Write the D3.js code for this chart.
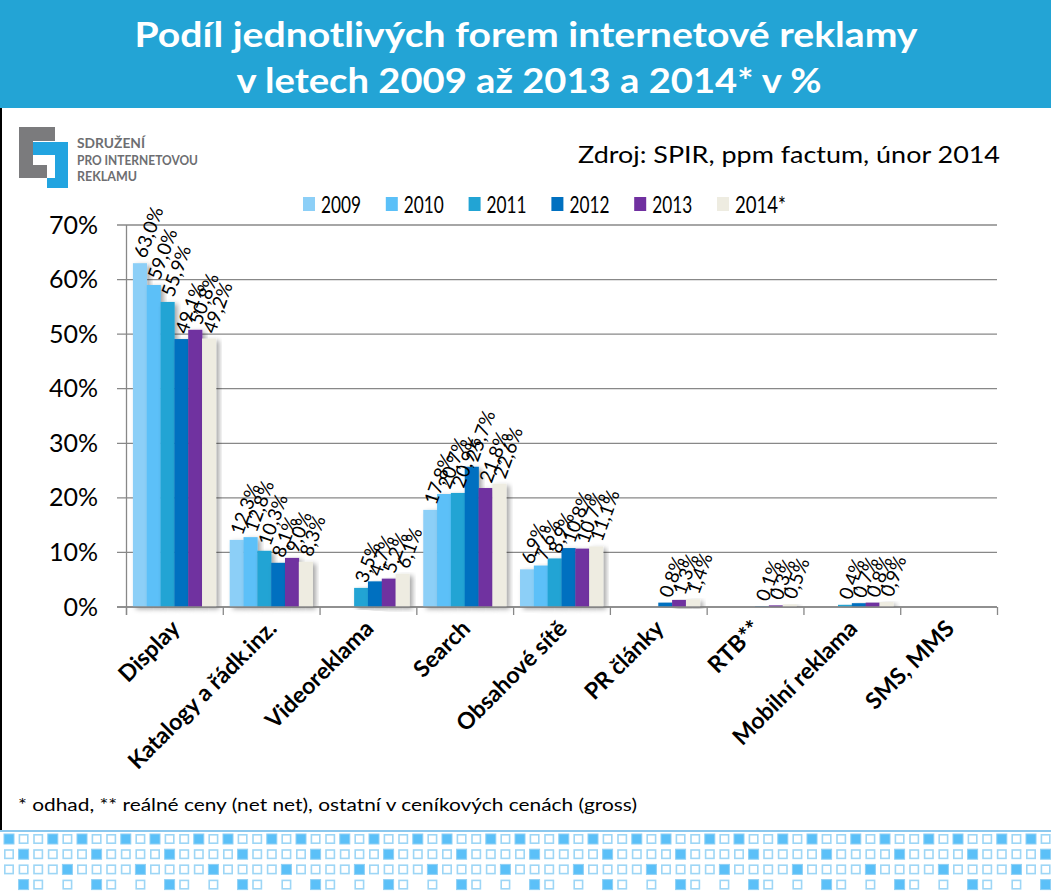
<!DOCTYPE html>
<html><head><meta charset="utf-8">
<script src="https://cdn.jsdelivr.net/npm/d3@7"></script>
<style>
body{margin:0;background:#fff;}
svg{display:block;}
text{font-family:Lato,"Open Sans",sans-serif;}
</style></head>
<body>
<svg id="c" width="1051" height="891"></svg>
<script>
const categories = ["Display","Katalogy a řádk.inz.","Videoreklama","Search","Obsahové sítě","PR články","RTB**","Mobilní reklama","SMS, MMS"];
const years = ["2009","2010","2011","2012","2013","2014*"];
const s2009 = [63.0, 12.3, null, 17.8, 6.9, null, null, null, null];
const s2010 = [59.0, 12.8, null, 20.7, 7.6, null, null, null, null];
const s2011 = [55.9, 10.3, 3.5, 20.9, 8.9, null, null, 0.4, null];
const s2012 = [49.1, 8.1, 4.7, 25.7, 10.8, 0.8, 0.1, 0.7, null];
const s2013 = [50.8, 9.0, 5.2, 21.8, 10.7, 1.3, 0.3, 0.8, null];
const s2014 = [49.2, 8.3, 6.1, 22.6, 11.1, 1.4, 0.5, 0.9, null];
const yTicks = [0,10,20,30,40,50,60,70];
const colors = ["#8ccff7","#5bc0f8","#22a4d4","#0070c0","#7030a0","#eeece1"];

const series = [s2009,s2010,s2011,s2012,s2013,s2014];
const svg = d3.select("#c");

// defs
const defs = svg.append("defs");
const f = defs.append("filter").attr("id","sh").attr("x","-20%").attr("y","-5%").attr("width","160%").attr("height","120%");
f.append("feDropShadow").attr("dx",3).attr("dy",2).attr("stdDeviation",2.5).attr("flood-color","#000").attr("flood-opacity",0.35);

// header
svg.append("rect").attr("x",0).attr("y",0).attr("width",1051).attr("height",108).attr("fill","#23a4d5");
svg.append("text").attr("x",526).attr("y",47).attr("text-anchor","middle").attr("fill","#fff")
  .attr("font-size",35).attr("font-weight","bold").attr("textLength",783).attr("lengthAdjust","spacingAndGlyphs")
  .text("Podíl jednotlivých forem internetové reklamy");
svg.append("text").attr("x",529).attr("y",93).attr("text-anchor","middle").attr("fill","#fff")
  .attr("font-size",35).attr("font-weight","bold").attr("textLength",585).attr("lengthAdjust","spacingAndGlyphs")
  .text("v letech 2009 až 2013 a 2014* v %");

// left frame line
svg.append("line").attr("x1",1).attr("x2",1).attr("y1",108).attr("y2",830).attr("stroke","#000").attr("stroke-width",2);

// logo
const lg = svg.append("g");
lg.append("path").attr("d","M19,127 H55 V141 H33 V165 H47 V178 H19 Z").attr("fill","#7b7b7d");
lg.append("path").attr("d","M33,142 H68 V188 H47 V178 H55 V155 H33 Z").attr("fill","#22a4e0");
["SDRUŽENÍ","PRO INTERNETOVOU","REKLAMU"].forEach((t,i)=>{
  lg.append("text").attr("x",77).attr("y",148+i*16.5).attr("font-size",14).attr("font-weight","bold")
    .attr("fill","#6d6e71").attr("font-family","'Open Sans',sans-serif").attr("textLength", i==0?68:(i==1?121:60)).attr("lengthAdjust","spacingAndGlyphs").text(t);
});

// source
svg.append("text").attr("x",1000).attr("y",163).attr("text-anchor","end").attr("font-size",24)
  .attr("textLength",422).attr("lengthAdjust","spacingAndGlyphs")
  .attr("fill","#000").text("Zdroj: SPIR, ppm factum, únor 2014");

// legend
const leg = svg.append("g");
years.forEach((y,i)=>{
  const lx = 303 + i*82.8;
  leg.append("rect").attr("x",lx).attr("y",197).attr("width",12).attr("height",14).attr("fill",colors[i]);
  leg.append("text").attr("x",lx+18).attr("y",213).attr("font-size",24).attr("fill","#000")
    .attr("textLength", y.length>4?51:40).attr("lengthAdjust","spacingAndGlyphs").text(y);
});

// scales
const x0 = d3.scaleBand().domain(categories).range([126,997]).padding(0);
const bw = x0.bandwidth();
const x1 = d3.scaleBand().domain(years).range([bw/14, bw - bw/14]).padding(0);
const y = d3.scaleLinear().domain([0,70]).range([607,225]);

// gridlines
svg.append("g").selectAll("line").data(yTicks).join("line")
  .attr("x1",117).attr("x2",997).attr("y1",d=>y(d)).attr("y2",d=>y(d))
  .attr("stroke","#888").attr("stroke-width",1.3);

// y axis labels
svg.append("g").selectAll("text").data(yTicks).join("text")
  .attr("x",98).attr("y",d=>y(d)+8.5).attr("text-anchor","end").attr("font-size",25).attr("fill","#000")
  .text(d=>d+"%");
// y axis line
svg.append("line").attr("x1",126.5).attr("x2",126.5).attr("y1",y(70)).attr("y2",y(0)+8).attr("stroke","#888").attr("stroke-width",1.3);
// category ticks
svg.append("g").selectAll("line").data(d3.range(categories.length+1)).join("line")
  .attr("x1",d=>126.5+d*bw).attr("x2",d=>126.5+d*bw).attr("y1",y(0)).attr("y2",y(0)+8)
  .attr("stroke","#888").attr("stroke-width",1.3);

// bars
const flat = [];
categories.forEach((c,ci)=>{
  years.forEach((yr,si)=>{
    const v = series[si][ci];
    if(v!==null) flat.push({c,yr,si,v});
  });
});
svg.append("g").selectAll("rect").data(flat).join("rect")
  .attr("x",d=>x0(d.c)+x1(d.yr)).attr("width",x1.bandwidth()+0.3)
  .attr("y",d=>y(d.v)).attr("height",d=>y(0)-y(d.v))
  .attr("fill",d=>colors[d.si]).attr("filter","url(#sh)");

// redraw axis baseline on top
svg.append("line").attr("x1",117).attr("x2",997).attr("y1",y(0)).attr("y2",y(0)).attr("stroke","#888").attr("stroke-width",1.3);

// data labels
const fmt = v => d3.format(".1f")(v).replace(".",",")+"%";
svg.append("g").selectAll("text").data(flat).join("text")
  .attr("transform",d=>{
    const cx = x0(d.c)+x1(d.yr)+x1.bandwidth()/2+6;
    const cy = y(d.v)-4;
    return `translate(${cx},${cy}) rotate(-70)`;
  })
  .attr("font-size",19).attr("font-family","'Liberation Sans',Arial,sans-serif").attr("fill","#000").text(d=>fmt(d.v));

// category labels
svg.append("g").selectAll("text").data(categories).join("text")
  .attr("transform",d=>`translate(${x0(d)+bw/2+7},${630}) rotate(-45)`)
  .attr("text-anchor","end").attr("font-size",23).attr("font-weight","bold").attr("fill","#000")
  .text(d=>d);

// footnote
svg.append("text").attr("x",18).attr("y",811).attr("font-size",18).attr("fill","#000")
  .attr("textLength",619).attr("lengthAdjust","spacingAndGlyphs")
  .text("* odhad, ** reálné ceny (net net), ostatní v ceníkových cenách (gross)");

// bottom decoration
svg.append("line").attr("x1",0).attr("x2",1051).attr("y1",831).attr("y2",831).attr("stroke","#8cc8ee").attr("stroke-width",2);
const rowsPat = ["FOOFO","OFOOO","OOOOF","_FO_O"];
const deco = svg.append("g");
rowsPat.forEach((p,r)=>{
  for(let i=0;i<73;i++){
    const ch = p[i%5];
    if(ch==="_") continue;
    const cx = 4 + i*14.6, cy = 834 + r*15.2;
    if(ch==="F") deco.append("rect").attr("x",cx).attr("y",cy).attr("width",10).attr("height",10).attr("fill","#5bc0f8").attr("stroke","#8fd0f5").attr("stroke-width",1);
    else deco.append("rect").attr("x",cx+0.8).attr("y",cy+0.8).attr("width",8.4).attr("height",8.4).attr("fill","none").attr("stroke","#9dd6f6").attr("stroke-width",1.6);
  }
});
</script>
</body></html>
